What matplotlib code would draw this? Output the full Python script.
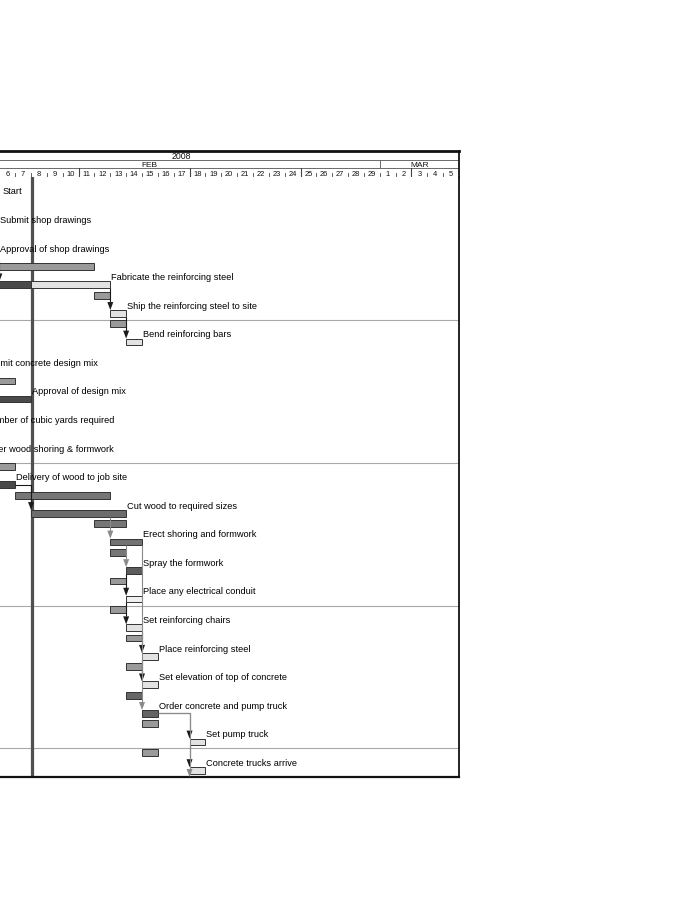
import datetime as dt
import matplotlib
matplotlib.use("Agg")
import matplotlib.pyplot as plt
from matplotlib.patches import Rectangle, Polygon
from matplotlib import font_manager

plt.rcParams['font.family'] = ['Liberation Sans', 'DejaVu Sans']

# ---------------- data (days counted from Feb 1, 2008 = 0) ----------------
tasks = [
    "Start",
    "Submit shop drawings",
    "Approval of shop drawings",
    "Fabricate the reinforcing steel",
    "Ship the reinforcing steel to site",
    "Bend reinforcing bars",
    "Submit concrete design mix",
    "Approval of design mix",
    "Number of cubic yards required",
    "Order wood shoring & formwork",
    "Delivery of wood to job site",
    "Cut wood to required sizes",
    "Erect shoring and formwork",
    "Spray the formwork",
    "Place any electrical conduit",
    "Set reinforcing chairs",
    "Place reinforcing steel",
    "Set elevation of top of concrete",
    "Order concrete and pump truck",
    "Set pump truck",
    "Concrete trucks arrive",
]
base_start = [5.0, 1, 2, 3, 11, 12, 1, 3, 1, 1, 3, 6, 11, 12, 12, 12, 13, 13, 13, 14, 14]
base_end   = [5.0, 3, 4, 11, 12, 13, 3, 6, 3, 3, 6, 12, 13, 13, 13, 13, 14, 14, 14, 15, 15]
act_start  = [5.12, 2, 4, 5, 12, 13, 2, 4, 3, 2, 4, 7, 12, 13, 13, 13, 14, 14, 14, 17, 17]
act_end    = [5.12, 5.0, 5.0, 12, 13, 14, 3.95, 7, 4.0, 3.9, 6, 13, 14, 14, 14, 14, 15, 15, 15, 18, 18]
done_until = [0, 0, 0, 7, 0, 0, 0, 7, 0, 0, 6, 0, 0, 0, 0, 0, 0, 0, 0, 0, 0]
base_colors = ['#9a9a9a'] * 11 + ['#767676', '#767676', '#767676'] + ['#9a9a9a'] * 4 + ['#666666', '#9a9a9a', '#9a9a9a']
act_colors = ['#e2e2e2'] * 11 + ['#6c6c6c', '#727272', '#5c5c5c', '#f0f0f0', '#e2e2e2', '#e2e2e2', '#e2e2e2',
                                  '#646464', '#e2e2e2', '#e2e2e2']
done_color = '#4a4a4a'
# dependencies: (predecessor, successor, colour); successor == len(tasks) -> task below chart
deps = [(2, 3, '#1a1a1a'), (3, 4, '#1a1a1a'), (4, 5, '#1a1a1a'), (10, 11, '#1a1a1a'),
        (13, 14, '#1a1a1a'), (14, 15, '#1a1a1a'), (15, 16, '#1a1a1a'), (16, 17, '#1a1a1a'),
        (18, 19, '#1a1a1a'), (19, 20, '#1a1a1a'),
        (11, 12, '#8a8a8a'), (12, 13, '#8a8a8a'), (12, 18, '#8a8a8a'), (18, 21, '#8a8a8a')]
next_task_start = 17
status_day = 7.03
timeline_start, timeline_end = -1, 34      # Jan 31 .. Mar 5 (end exclusive)
year_label = "2008"
month_names = ["JAN", "FEB", "MAR"]
group_size = 5

# header font (narrow if available)
_names = {f.name for f in font_manager.fontManager.ttflist}
hdr_family = ['Liberation Sans Narrow', 'Liberation Sans'] if 'Liberation Sans Narrow' in _names else ['Liberation Sans']
day_fs = 6.0 if 'Liberation Sans Narrow' in _names else 5.4

# ---------------- layout ----------------
W, H = 700, 900
fig = plt.figure(figsize=(W / 100, H / 100), dpi=100)
px_day = 15.85
left_px = -(5.04 - timeline_start) * px_day
right_px = 459
body_top, body_bot = 177, 777
hdr_top = 151

ax = fig.add_axes([left_px / W, 1 - body_bot / H, (right_px - left_px) / W, (body_bot - body_top) / H])
hx = fig.add_axes([left_px / W, 1 - body_top / H, (right_px - left_px) / W, (body_top - hdr_top) / H])

n = len(tasks)
row_px = (body_bot - body_top) / n
ax.set_xlim(timeline_start, timeline_end)
ax.set_ylim(n, 0)
ax.set_xticks([]); ax.set_yticks([])
for s in ['left', 'top']:
    ax.spines[s].set_visible(False)
ax.spines['right'].set_linewidth(1.3)
ax.spines['bottom'].set_linewidth(1.6)
ax.spines['right'].set_color('#111')
ax.spines['bottom'].set_color('#111')

BASE_TOP, BASE_BOT = 0.02, 0.255
ACT_TOP, ACT_BOT = 0.657, 0.89
ACT_MID = (ACT_TOP + ACT_BOT) / 2

# group separators
for g in range(group_size, n, group_size):
    ax.axhline(g, color='#a8a8a8', lw=0.8, zorder=1)

# status line
ax.axvline(status_day, color='#505050', lw=2.3, zorder=1.5)

edge = '#333333'
for i in range(n):
    if base_end[i] > base_start[i]:
        ax.add_patch(Rectangle((base_start[i], i + BASE_TOP), base_end[i] - base_start[i], BASE_BOT - BASE_TOP,
                               facecolor=base_colors[i], edgecolor=edge, lw=0.7, zorder=2))
    if act_end[i] > act_start[i]:
        d = min(max(done_until[i], act_start[i]), act_end[i])
        if d > act_start[i]:
            ax.add_patch(Rectangle((act_start[i], i + ACT_TOP), d - act_start[i], ACT_BOT - ACT_TOP,
                                   facecolor=done_color, edgecolor=edge, lw=0.7, zorder=2))
        if act_end[i] > d:
            ax.add_patch(Rectangle((d, i + ACT_TOP), act_end[i] - d, ACT_BOT - ACT_TOP,
                                   facecolor=act_colors[i], edgecolor=edge, lw=0.7, zorder=2))
    ax.text(act_end[i] + 1.0 / px_day, i + 0.61, tasks[i], ha='left', va='baseline',
            fontsize=6.7, color='#000', zorder=4, clip_on=False)

hw = 3.0 / px_day
hh = 8.0 / row_px
for p, s, col in deps:
    x = act_start[s] if s < n else next_task_start
    tip = s + ACT_TOP if s < n else n
    if act_start[p] <= x <= act_end[p]:
        xs, ys = [x, x], [p + ACT_BOT, tip - hh]
    else:
        y0 = p + ACT_MID
        xs, ys = [act_end[p], x, x], [y0, y0, tip - hh]
    ax.plot(xs, ys, color=col, lw=0.8, zorder=3, solid_capstyle='butt')
    ax.add_patch(Polygon([[x - hw, tip - hh], [x + hw, tip - hh], [x, tip]], closed=True,
                         facecolor=col, edgecolor='none', zorder=3))

# ---------------- header ----------------
hx.set_xlim(timeline_start, timeline_end)
hx.set_ylim(body_top - hdr_top, 0)
hx.set_xticks([]); hx.set_yticks([])
for s in ['left', 'bottom']:
    hx.spines[s].set_visible(False)
hx.spines['top'].set_linewidth(2.0)
hx.spines['right'].set_linewidth(1.3)
hx.spines['top'].set_color('#111')
hx.spines['right'].set_color('#111')
y_year, y_month = 9, 17
hx.axhline(y_year, color='#6a6a6a', lw=0.7)
hx.axhline(y_month, color='#6a6a6a', lw=0.7)

hx.text((timeline_start + timeline_end) / 2, 8.2, year_label, ha='center', va='baseline',
        fontsize=6.3, color='#111')

base_date = dt.date(2008, 2, 1)
days = list(range(timeline_start, timeline_end))
dates = [base_date + dt.timedelta(days=d) for d in days]
# months
m_start = {}
for d, date in zip(days, dates):
    m_start.setdefault(date.month, [d, d + 1])
    m_start[date.month][1] = d + 1
for m, (a, b) in m_start.items():
    full_a = (dt.date(2008, m, 1) - base_date).days
    full_b = (dt.date(2008, m + 1, 1) - base_date).days
    cx = (full_a + full_b) / 2 if m == 2 else (a + b) / 2
    hx.text(cx, 16.2, month_names[m - 1], ha='center', va='baseline', fontsize=6.0, color='#111')
    if a > timeline_start:
        hx.plot([a, a], [y_year, y_month], color='#6a6a6a', lw=0.7)
# days
for d, date in zip(days, dates):
    hx.text(d + 0.5, 24.8, str(date.day), ha='center', va='baseline', fontsize=day_fs,
            family=hdr_family, color='#111')
    if d > timeline_start:
        if date.weekday() == 0:
            hx.plot([d, d], [y_month, 26], color='#444444', lw=0.8)
        else:
            hx.plot([d, d], [21.5, 25.5], color='#444444', lw=0.6)

fig.savefig("out.png", dpi=100)
